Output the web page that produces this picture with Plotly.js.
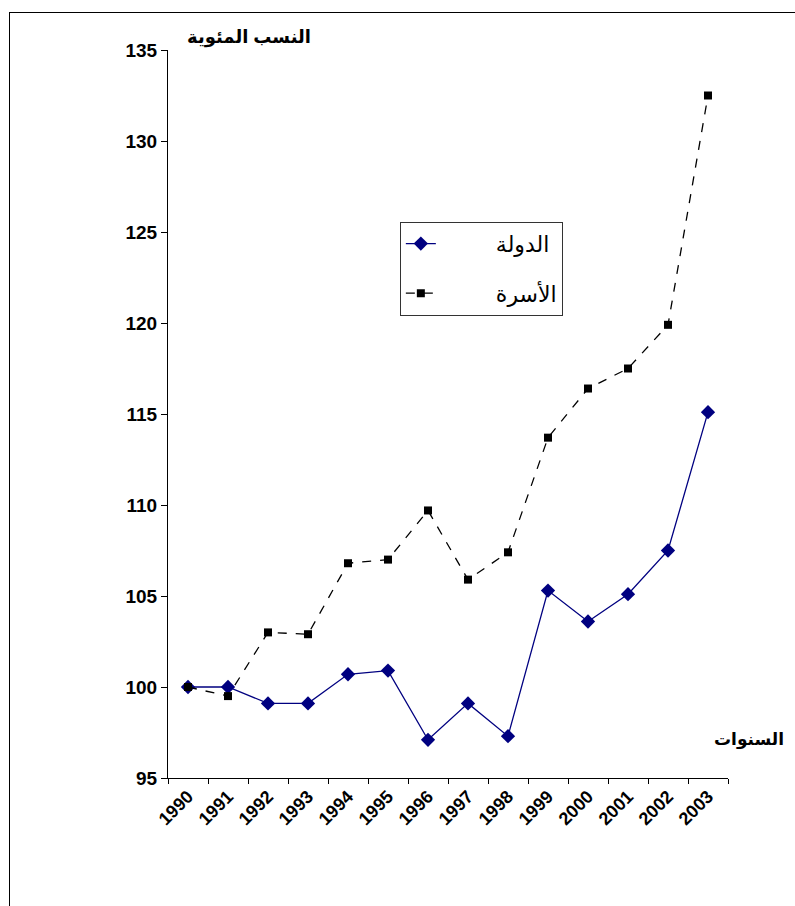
<!DOCTYPE html>
<html>
<head>
<meta charset="utf-8">
<script src="https://cdn.plot.ly/plotly-3.0.1.min.js"></script>
<style>
  html, body { margin: 0; padding: 0; background: #fff; }
  #frame { position: absolute; left: 9px; top: 12px; width: 800px; height: 900px;
           border-left: 1px solid #000; border-top: 1px solid #000; }
  #chart { position: absolute; left: 0; top: 0; width: 795px; height: 906px; }
</style>
</head>
<body>
<div id="frame"></div>
<div id="chart"></div>
<script>
const years = ["1990","1991","1992","1993","1994","1995","1996","1997","1998","1999","2000","2001","2002","2003"];
const stateValues = [100.0, 100.0, 99.1, 99.1, 100.7, 100.9, 97.1, 99.1, 97.3, 105.3, 103.6, 105.1, 107.5, 115.1];
const householdValues = [100.0, 99.5, 103.0, 102.9, 106.8, 107.0, 109.7, 105.9, 107.4, 113.7, 116.4, 117.5, 119.9, 132.5];
const yTicks = [95, 100, 105, 110, 115, 120, 125, 130, 135];
const seriesNames = ["الدولة", "الأسرة"];
const yAxisTitle = "النسب المئوية";
const xAxisTitle = "السنوات";

const fontFam = "Arial, 'Liberation Sans', 'DejaVu Sans', sans-serif";
const legendPad = "\u00a0".repeat(9);

const traces = [
  {
    x: years, y: stateValues, name: legendPad + seriesNames[0], type: "scatter", mode: "lines+markers",
    legendgroup: "a",
    line: { color: "#000080", width: 1.3 },
    marker: { symbol: "diamond", size: 11, color: "#000080" }
  },
  {
    x: years, y: householdValues, name: legendPad + seriesNames[1], type: "scatter", mode: "lines+markers",
    legendgroup: "b",
    line: { color: "#000000", width: 1.3, dash: "dash" },
    marker: { symbol: "square", size: 8, color: "#000000" }
  }
];

const layout = {
  width: 795, height: 906,
  margin: { l: 168, r: 67, t: 50, b: 128 },
  paper_bgcolor: "rgba(0,0,0,0)",
  plot_bgcolor: "rgba(0,0,0,0)",
  font: { family: fontFam, color: "#000" },
  showlegend: true,
  legend: {
    x: 0.414, y: 0.764, xanchor: "left", yanchor: "top",
    bgcolor: "#fff", bordercolor: "#333", borderwidth: 1,
    font: { size: 22, family: fontFam },
    tracegroupgap: 18
  },
  xaxis: {
    type: "category",
    range: [-0.5, 13.5],
    tickmode: "array",
    tickvals: years,
    ticktext: years.map(y => "<b>" + y + "</b>"),
    showline: true, linecolor: "#000", linewidth: 1,
    ticks: "outside", ticklen: 5, tickcolor: "#000",
    tickson: "boundaries",
    tickangle: -45,
    tickfont: { size: 18, family: fontFam },
    showgrid: false, zeroline: false
  },
  yaxis: {
    range: [95, 135],
    tickmode: "array",
    tickvals: yTicks,
    ticktext: yTicks.map(v => "<b>" + v + "</b>"),
    showline: true, linecolor: "#000", linewidth: 1,
    ticks: "outside", ticklen: 6, tickcolor: "#000",
    tickfont: { size: 19, family: fontFam },
    showgrid: false, zeroline: false
  },
  annotations: [
    { text: "<b>" + yAxisTitle + "</b>", xref: "paper", yref: "paper",
      x: 0.03, y: 1.0, xanchor: "left", yanchor: "bottom", showarrow: false,
      font: { size: 18, family: fontFam } },
    { text: "<b>" + xAxisTitle + "</b>", xref: "paper", yref: "paper",
      x: 1.1036, y: 0.052, xanchor: "right", yanchor: "middle", showarrow: false,
      font: { size: 17, family: fontFam } }
  ]
};

Plotly.newPlot("chart", traces, layout, { displayModeBar: false, staticPlot: true });
</script>
</body>
</html>
